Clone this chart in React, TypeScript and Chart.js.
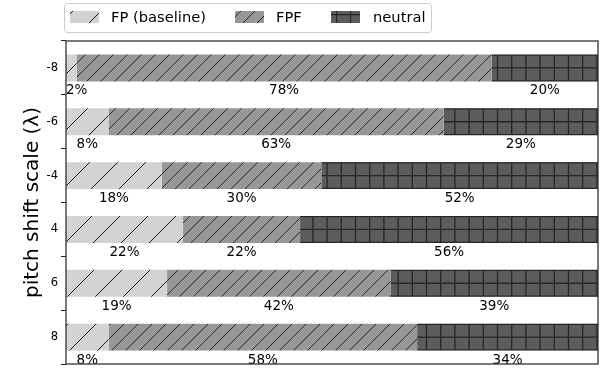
import React, { useEffect, useRef } from "react";
import { Chart, registerables } from "chart.js";

Chart.register(...registerables);

const categories = ["-8", "-6", "-4", "4", "6", "8"];
const fpBaseline = [2, 8, 18, 22, 19, 8];
const fpf = [78, 63, 30, 22, 42, 58];
const neutral = [20, 29, 52, 56, 39, 34];
const seriesNames = ["FP (baseline)", "FPF", "neutral"];
const axisTitle = "pitch shift scale (λ)";

const FONT = '"DejaVu Sans", "Liberation Sans", sans-serif';

function diagPattern(bg: string, s: number, color: string, lw: number) {
  const c = document.createElement("canvas");
  c.width = s;
  c.height = s;
  const g = c.getContext("2d")!;
  g.fillStyle = bg;
  g.fillRect(0, 0, s, s);
  g.strokeStyle = color;
  g.lineWidth = lw;
  g.beginPath();
  for (const o of [-s, 0, s]) {
    g.moveTo(o, s);
    g.lineTo(o + s, 0);
  }
  g.stroke();
  return g.createPattern(c, "repeat")!;
}

function gridPattern(bg: string, s: number, color: string, lw: number) {
  const c = document.createElement("canvas");
  c.width = s;
  c.height = s;
  const g = c.getContext("2d")!;
  g.fillStyle = bg;
  g.fillRect(0, 0, s, s);
  g.strokeStyle = color;
  g.lineWidth = lw;
  g.beginPath();
  g.moveTo(0.5, 0);
  g.lineTo(0.5, s);
  g.moveTo(0, 0.5);
  g.lineTo(s, 0.5);
  g.stroke();
  return g.createPattern(c, "repeat")!;
}

export default function App() {
  const ref = useRef<HTMLCanvasElement | null>(null);

  useEffect(() => {
    const canvas = ref.current!;
    const fills = [
      diagPattern("#d3d3d3", 28, "#1a1a1a", 1),
      diagPattern("#979797", 14, "#2a2a2a", 1),
      gridPattern("#5c5c5c", 14, "#262626", 1.3),
    ];
    const neutralBg = "#5c5c5c";

    const gridHatchPlugin = {
      id: "gridHatch",
      afterDatasetDraw(chart: any, args: any) {
        if (args.index !== 2) return;
        const ctx = chart.ctx;
        const meta = chart.getDatasetMeta(2);
        meta.data.forEach((bar: any) => {
          const x0 = Math.min(bar.x, bar.base);
          const x1 = Math.max(bar.x, bar.base);
          const y0 = bar.y - bar.height / 2;
          const y1 = bar.y + bar.height / 2;
          ctx.save();
          ctx.beginPath();
          ctx.rect(x0, y0, x1 - x0, y1 - y0);
          ctx.clip();
          ctx.strokeStyle = "#262626";
          ctx.lineWidth = 1.3;
          ctx.beginPath();
          for (let x = Math.floor(x0 / 14.2) * 14.2 + 0.5; x <= x1 + 1; x += 14.2) {
            ctx.moveTo(x, y0);
            ctx.lineTo(x, y1);
          }
          for (const y of [y0 + 0.6, (y0 + y1) / 2, y1 - 0.6]) {
            ctx.moveTo(x0, y);
            ctx.lineTo(x1, y);
          }
          ctx.stroke();
          ctx.restore();
        });
      },
    };

    const labelPlugin = {
      id: "labels",
      afterDatasetsDraw(chart: any) {
        const ctx = chart.ctx;
        const area = chart.chartArea;
        ctx.save();
        ctx.font = `13.5px ${FONT}`;
        ctx.fillStyle = "#000";
        ctx.textAlign = "center";
        ctx.textBaseline = "alphabetic";
        chart.data.datasets.forEach((ds: any, di: number) => {
          const meta = chart.getDatasetMeta(di);
          meta.data.forEach((bar: any, i: number) => {
            const txt = `${ds.data[i]}%`;
            const w = ctx.measureText(txt).width;
            let cx = (bar.x + bar.base) / 2;
            cx = Math.max(cx, area.left + w / 2);
            cx = Math.min(cx, area.right - w / 2);
            const bottom = bar.y + bar.height / 2;
            ctx.fillText(txt, cx, bottom + 13);
          });
        });
        ctx.restore();
      },
    };

    const framePlugin = {
      id: "frame",
      afterDraw(chart: any) {
        const ctx = chart.ctx;
        const a = chart.chartArea;
        ctx.save();
        ctx.strokeStyle = "#333";
        ctx.lineWidth = 1.3;
        ctx.strokeRect(a.left, a.top, a.right - a.left, a.bottom - a.top);

        // legend
        const bx = 64.5, by = 3.5, bw = 367, bh = 29;
        ctx.fillStyle = "rgba(255,255,255,0.9)";
        ctx.strokeStyle = "#cccccc";
        ctx.lineWidth = 1;
        ctx.beginPath();
        (ctx as any).roundRect(bx, by, bw, bh, 3);
        ctx.fill();
        ctx.stroke();
        const swX = [70, 235, 331];
        const txX = [111, 276, 373];
        ctx.font = `14.7px ${FONT}`;
        ctx.textBaseline = "middle";
        ctx.textAlign = "left";
        seriesNames.forEach((name, i) => {
          ctx.fillStyle = fills[i];
          ctx.fillRect(swX[i], 11, 29, 12);
          ctx.fillStyle = "#000";
          ctx.fillText(name, txX[i], 18);
        });
        ctx.restore();
      },
    };

    const chart = new Chart(canvas, {
      type: "bar",
      data: {
        labels: categories,
        datasets: [
          { label: seriesNames[0], data: fpBaseline, backgroundColor: fills[0] as any, borderWidth: 0 },
          { label: seriesNames[1], data: fpf, backgroundColor: fills[1] as any, borderWidth: 0 },
          { label: seriesNames[2], data: neutral, backgroundColor: neutralBg, borderWidth: 0 },
        ],
      },
      options: {
        indexAxis: "y",
        responsive: false,
        animation: false,
        events: [],
        barPercentage: 0.5,
        categoryPercentage: 1,
        layout: { padding: { left: 0, right: 13, top: 41, bottom: 13 } },
        plugins: {
          legend: { display: false },
          tooltip: { enabled: false },
        },
        scales: {
          x: { stacked: true, min: 0, max: 100, display: false },
          y: {
            stacked: true,
            grid: { display: true, drawOnChartArea: false, drawTicks: true, tickLength: 5, color: "#222", lineWidth: 1 },
            border: { display: false },
            ticks: { color: "#000", font: { size: 11.5, family: FONT }, padding: 3 },
            title: {
              display: true,
              text: axisTitle,
              color: "#000",
              font: { size: 20, family: FONT },
              padding: { top: 21, bottom: 0 },
            },
            afterFit: (scale: any) => {
              scale.width = 66;
            },
          },
        },
      } as any,
      plugins: [gridHatchPlugin, labelPlugin, framePlugin],
    });
    return () => chart.destroy();
  }, []);

  return (
    <div style={{ position: "fixed", left: 0, top: 0, width: 611, height: 377, background: "#fff" }}>
      <canvas ref={ref} width={611} height={377} style={{ width: 611, height: 377, display: "block" }} />
    </div>
  );
}
